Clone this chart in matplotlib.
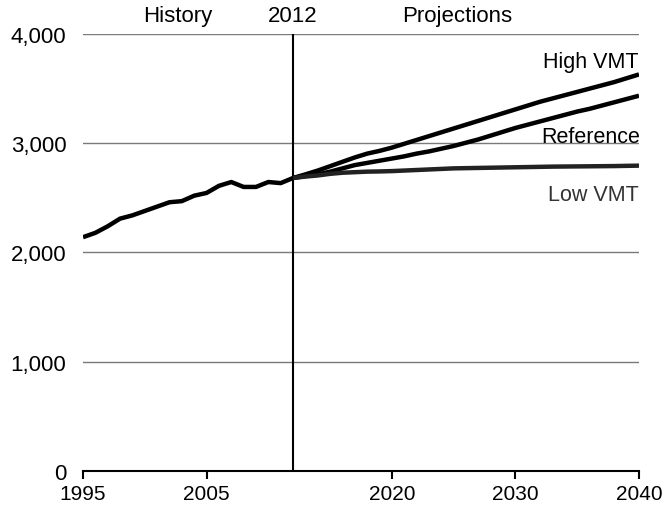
import matplotlib
matplotlib.use("Agg")
import matplotlib.pyplot as plt
from matplotlib.ticker import FuncFormatter

plt.rcParams['font.family'] = ['Liberation Sans', 'DejaVu Sans']

# historical data, 1995-2012
hist_years = list(range(1995, 2013))
hist_vals = [2140, 2180, 2240, 2310, 2340, 2380, 2420, 2460, 2470, 2520,
             2545, 2610, 2645, 2600, 2600, 2645, 2635, 2682]

# projections, 2012-2040
proj_years = list(range(2012, 2041))
high_vmt = [2682, 2715, 2750, 2790, 2830, 2870, 2905, 2930, 2960, 2995,
            3030, 3065, 3100, 3135, 3170, 3205, 3240, 3275, 3310, 3345,
            3380, 3410, 3440, 3470, 3500, 3530, 3560, 3595, 3630]
reference = [2682, 2700, 2715, 2740, 2770, 2800, 2820, 2840, 2860, 2880,
             2905, 2925, 2950, 2975, 3005, 3035, 3070, 3105, 3140, 3170,
             3200, 3230, 3260, 3290, 3315, 3345, 3375, 3405, 3435]
low_vmt = [2682, 2695, 2705, 2720, 2730, 2735, 2740, 2742, 2745, 2750,
           2755, 2760, 2765, 2770, 2772, 2774, 2776, 2778, 2780, 2782,
           2784, 2786, 2787, 2788, 2789, 2790, 2791, 2793, 2795]

x_ticks = [1995, 2005, 2020, 2030, 2040]
y_ticks = [0, 1000, 2000, 3000, 4000]

fig = plt.figure(figsize=(6.63, 5.1), dpi=100)
ax = fig.add_axes([0.1252, 0.0745, 0.8386, 0.8569])

for y in y_ticks[1:]:
    ax.axhline(y, color='#7a7a7a', lw=1.0, zorder=1)
ax.axvline(2012, color='black', lw=1.5, zorder=2)

ax.plot(hist_years, hist_vals, color='black', lw=3.2, zorder=3, solid_capstyle='butt')
ax.plot(proj_years, high_vmt, color='black', lw=3.2, zorder=3, solid_capstyle='butt')
ax.plot(proj_years, reference, color='black', lw=3.2, zorder=3, solid_capstyle='butt')
ax.plot(proj_years, low_vmt, color='#222222', lw=3.2, zorder=3, solid_capstyle='butt')

ax.set_xlim(1995, 2040)
ax.set_ylim(0, 4000)
ax.set_xticks(x_ticks)
ax.set_yticks(y_ticks)
ax.yaxis.set_major_formatter(FuncFormatter(lambda v, p: f"{int(v):,}"))

for s in ['top', 'right', 'left']:
    ax.spines[s].set_visible(False)
ax.spines['bottom'].set_linewidth(1.5)
ax.tick_params(axis='x', direction='out', length=6, width=1.5, labelsize=15, pad=3)
ax.tick_params(axis='y', length=0, labelsize=16, pad=12)

ax.text(2002.7, 4070, "History", ha='center', va='bottom', fontsize=16)
ax.text(2012, 4070, "2012", ha='center', va='bottom', fontsize=16)
ax.text(2025.3, 4070, "Projections", ha='center', va='bottom', fontsize=16)

ax.text(2040, 3745, "High VMT", ha='right', va='center', fontsize=15.5)
ax.text(2040.1, 3060, "Reference", ha='right', va='center', fontsize=15.5)
ax.text(2040, 2530, "Low VMT", ha='right', va='center', fontsize=15.5, color='#333333')

fig.savefig("out.png", dpi=100)
